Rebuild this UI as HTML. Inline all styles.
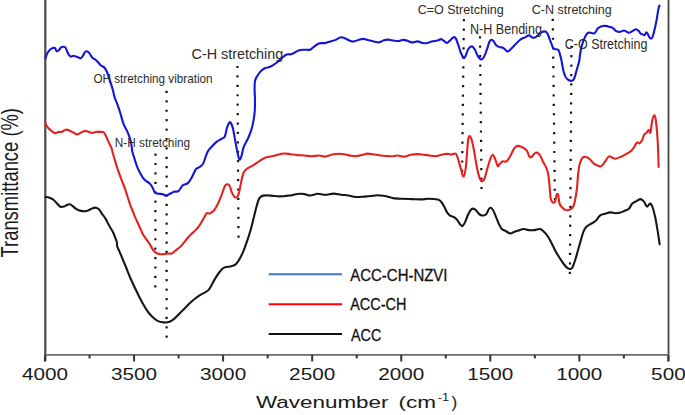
<!DOCTYPE html>
<html><head><meta charset="utf-8"><style>
html,body{margin:0;padding:0;background:#fff;}
svg{display:block;}
text{font-family:"Liberation Sans",sans-serif;}
</style></head><body>
<svg width="685" height="415" viewBox="0 0 685 415">
<rect width="685" height="415" fill="#fff"/>
<!-- axes -->
<line x1="45.3" y1="0" x2="45.3" y2="361.3" stroke="#4a4a4a" stroke-width="2.2"/>
<line x1="668.5" y1="0" x2="668.5" y2="361.3" stroke="#444" stroke-width="1.8"/>
<line x1="44.5" y1="354.9" x2="669" y2="354.9" stroke="#6a6a6a" stroke-width="1.8"/>
<line x1="45.00" y1="355" x2="45.00" y2="361.5" stroke="#333" stroke-width="2"/><line x1="89.53" y1="355" x2="89.53" y2="358.4" stroke="#333" stroke-width="2"/><line x1="134.06" y1="355" x2="134.06" y2="361.5" stroke="#333" stroke-width="2"/><line x1="178.59" y1="355" x2="178.59" y2="358.4" stroke="#333" stroke-width="2"/><line x1="223.11" y1="355" x2="223.11" y2="361.5" stroke="#333" stroke-width="2"/><line x1="267.64" y1="355" x2="267.64" y2="358.4" stroke="#333" stroke-width="2"/><line x1="312.17" y1="355" x2="312.17" y2="361.5" stroke="#333" stroke-width="2"/><line x1="356.70" y1="355" x2="356.70" y2="358.4" stroke="#333" stroke-width="2"/><line x1="401.23" y1="355" x2="401.23" y2="361.5" stroke="#333" stroke-width="2"/><line x1="445.76" y1="355" x2="445.76" y2="358.4" stroke="#333" stroke-width="2"/><line x1="490.29" y1="355" x2="490.29" y2="361.5" stroke="#333" stroke-width="2"/><line x1="534.81" y1="355" x2="534.81" y2="358.4" stroke="#333" stroke-width="2"/><line x1="579.34" y1="355" x2="579.34" y2="361.5" stroke="#333" stroke-width="2"/><line x1="623.87" y1="355" x2="623.87" y2="358.4" stroke="#333" stroke-width="2"/><line x1="668.40" y1="355" x2="668.40" y2="361.5" stroke="#333" stroke-width="2"/>
<g font-size="17" fill="#1a1a1a"><text x="0" y="0" transform="translate(45.00,379.5) scale(1.22,1)" text-anchor="middle">4000</text><text x="0" y="0" transform="translate(134.06,379.5) scale(1.22,1)" text-anchor="middle">3500</text><text x="0" y="0" transform="translate(223.11,379.5) scale(1.22,1)" text-anchor="middle">3000</text><text x="0" y="0" transform="translate(312.17,379.5) scale(1.22,1)" text-anchor="middle">2500</text><text x="0" y="0" transform="translate(401.23,379.5) scale(1.22,1)" text-anchor="middle">2000</text><text x="0" y="0" transform="translate(490.29,379.5) scale(1.22,1)" text-anchor="middle">1500</text><text x="0" y="0" transform="translate(579.34,379.5) scale(1.22,1)" text-anchor="middle">1000</text><text x="0" y="0" transform="translate(668.40,379.5) scale(1.22,1)" text-anchor="middle">500</text></g>
<g font-size="17.4" fill="#1a1a1a"><text x="256" y="407.8" textLength="132.5" lengthAdjust="spacingAndGlyphs">Wavenumber</text><text x="398.5" y="407.8" textLength="37.6" lengthAdjust="spacingAndGlyphs">(cm</text><text x="437.8" y="400.8" font-size="10.2" textLength="11.4" lengthAdjust="spacingAndGlyphs">-1</text><text x="451.4" y="407.8" textLength="5.8" lengthAdjust="spacingAndGlyphs">)</text></g>
<text x="0" y="0" transform="translate(18,257.5) rotate(-90) scale(1,1.24)" font-size="18.95" fill="#1a1a1a" textLength="149.5" lengthAdjust="spacingAndGlyphs">Transmittance (%)</text>
<!-- dotted lines -->
<g fill="#111">
<rect x="154.40" y="153.50" width="2.2" height="2.2" rx="0.5"/><rect x="154.39" y="162.91" width="2.2" height="2.2" rx="0.5"/><rect x="154.37" y="172.31" width="2.2" height="2.2" rx="0.5"/><rect x="154.36" y="181.72" width="2.2" height="2.2" rx="0.5"/><rect x="154.34" y="191.13" width="2.2" height="2.2" rx="0.5"/><rect x="154.33" y="200.54" width="2.2" height="2.2" rx="0.5"/><rect x="154.31" y="209.94" width="2.2" height="2.2" rx="0.5"/><rect x="154.30" y="219.35" width="2.2" height="2.2" rx="0.5"/><rect x="154.29" y="228.76" width="2.2" height="2.2" rx="0.5"/><rect x="154.27" y="238.16" width="2.2" height="2.2" rx="0.5"/><rect x="154.26" y="247.57" width="2.2" height="2.2" rx="0.5"/><rect x="154.24" y="256.98" width="2.2" height="2.2" rx="0.5"/><rect x="154.23" y="266.39" width="2.2" height="2.2" rx="0.5"/><rect x="154.21" y="275.79" width="2.2" height="2.2" rx="0.5"/><rect x="154.20" y="285.20" width="2.2" height="2.2" rx="0.5"/>
<rect x="165.50" y="90.80" width="2.2" height="2.2" rx="0.5"/><rect x="165.50" y="100.22" width="2.2" height="2.2" rx="0.5"/><rect x="165.50" y="109.63" width="2.2" height="2.2" rx="0.5"/><rect x="165.50" y="119.05" width="2.2" height="2.2" rx="0.5"/><rect x="165.50" y="128.46" width="2.2" height="2.2" rx="0.5"/><rect x="165.50" y="137.88" width="2.2" height="2.2" rx="0.5"/><rect x="165.50" y="147.29" width="2.2" height="2.2" rx="0.5"/><rect x="165.50" y="156.71" width="2.2" height="2.2" rx="0.5"/><rect x="165.50" y="166.12" width="2.2" height="2.2" rx="0.5"/><rect x="165.50" y="175.54" width="2.2" height="2.2" rx="0.5"/><rect x="165.50" y="184.95" width="2.2" height="2.2" rx="0.5"/><rect x="165.50" y="194.37" width="2.2" height="2.2" rx="0.5"/><rect x="165.50" y="203.78" width="2.2" height="2.2" rx="0.5"/><rect x="165.50" y="213.20" width="2.2" height="2.2" rx="0.5"/><rect x="165.50" y="222.62" width="2.2" height="2.2" rx="0.5"/><rect x="165.50" y="232.03" width="2.2" height="2.2" rx="0.5"/><rect x="165.50" y="241.45" width="2.2" height="2.2" rx="0.5"/><rect x="165.50" y="250.86" width="2.2" height="2.2" rx="0.5"/><rect x="165.50" y="260.28" width="2.2" height="2.2" rx="0.5"/><rect x="165.50" y="269.69" width="2.2" height="2.2" rx="0.5"/><rect x="165.50" y="279.11" width="2.2" height="2.2" rx="0.5"/><rect x="165.50" y="288.52" width="2.2" height="2.2" rx="0.5"/><rect x="165.50" y="297.94" width="2.2" height="2.2" rx="0.5"/><rect x="165.50" y="307.35" width="2.2" height="2.2" rx="0.5"/><rect x="165.50" y="316.77" width="2.2" height="2.2" rx="0.5"/><rect x="165.50" y="326.18" width="2.2" height="2.2" rx="0.5"/><rect x="165.50" y="335.60" width="2.2" height="2.2" rx="0.5"/>
<rect x="236.30" y="65.90" width="2.2" height="2.2" rx="0.5"/><rect x="236.36" y="75.32" width="2.2" height="2.2" rx="0.5"/><rect x="236.42" y="84.74" width="2.2" height="2.2" rx="0.5"/><rect x="236.48" y="94.17" width="2.2" height="2.2" rx="0.5"/><rect x="236.54" y="103.59" width="2.2" height="2.2" rx="0.5"/><rect x="236.61" y="113.01" width="2.2" height="2.2" rx="0.5"/><rect x="236.67" y="122.43" width="2.2" height="2.2" rx="0.5"/><rect x="236.73" y="131.86" width="2.2" height="2.2" rx="0.5"/><rect x="236.79" y="141.28" width="2.2" height="2.2" rx="0.5"/><rect x="236.85" y="150.70" width="2.2" height="2.2" rx="0.5"/><rect x="236.91" y="160.12" width="2.2" height="2.2" rx="0.5"/><rect x="236.97" y="169.54" width="2.2" height="2.2" rx="0.5"/><rect x="237.03" y="178.97" width="2.2" height="2.2" rx="0.5"/><rect x="237.09" y="188.39" width="2.2" height="2.2" rx="0.5"/><rect x="237.16" y="197.81" width="2.2" height="2.2" rx="0.5"/><rect x="237.22" y="207.23" width="2.2" height="2.2" rx="0.5"/><rect x="237.28" y="216.66" width="2.2" height="2.2" rx="0.5"/><rect x="237.34" y="226.08" width="2.2" height="2.2" rx="0.5"/><rect x="237.40" y="235.50" width="2.2" height="2.2" rx="0.5"/>
<rect x="462.80" y="19.10" width="2.2" height="2.2" rx="0.5"/><rect x="462.69" y="28.52" width="2.2" height="2.2" rx="0.5"/><rect x="462.57" y="37.94" width="2.2" height="2.2" rx="0.5"/><rect x="462.46" y="47.36" width="2.2" height="2.2" rx="0.5"/><rect x="462.35" y="56.77" width="2.2" height="2.2" rx="0.5"/><rect x="462.24" y="66.19" width="2.2" height="2.2" rx="0.5"/><rect x="462.12" y="75.61" width="2.2" height="2.2" rx="0.5"/><rect x="462.01" y="85.03" width="2.2" height="2.2" rx="0.5"/><rect x="461.90" y="94.45" width="2.2" height="2.2" rx="0.5"/><rect x="461.79" y="103.87" width="2.2" height="2.2" rx="0.5"/><rect x="461.67" y="113.29" width="2.2" height="2.2" rx="0.5"/><rect x="461.56" y="122.71" width="2.2" height="2.2" rx="0.5"/><rect x="461.45" y="132.12" width="2.2" height="2.2" rx="0.5"/><rect x="461.34" y="141.54" width="2.2" height="2.2" rx="0.5"/><rect x="461.23" y="150.96" width="2.2" height="2.2" rx="0.5"/><rect x="461.11" y="160.38" width="2.2" height="2.2" rx="0.5"/><rect x="461.00" y="169.80" width="2.2" height="2.2" rx="0.5"/>
<rect x="478.90" y="36.20" width="2.2" height="2.2" rx="0.5"/><rect x="478.99" y="45.62" width="2.2" height="2.2" rx="0.5"/><rect x="479.09" y="55.04" width="2.2" height="2.2" rx="0.5"/><rect x="479.18" y="64.46" width="2.2" height="2.2" rx="0.5"/><rect x="479.27" y="73.88" width="2.2" height="2.2" rx="0.5"/><rect x="479.37" y="83.29" width="2.2" height="2.2" rx="0.5"/><rect x="479.46" y="92.71" width="2.2" height="2.2" rx="0.5"/><rect x="479.56" y="102.13" width="2.2" height="2.2" rx="0.5"/><rect x="479.65" y="111.55" width="2.2" height="2.2" rx="0.5"/><rect x="479.74" y="120.97" width="2.2" height="2.2" rx="0.5"/><rect x="479.84" y="130.39" width="2.2" height="2.2" rx="0.5"/><rect x="479.93" y="139.81" width="2.2" height="2.2" rx="0.5"/><rect x="480.02" y="149.22" width="2.2" height="2.2" rx="0.5"/><rect x="480.12" y="158.64" width="2.2" height="2.2" rx="0.5"/><rect x="480.21" y="168.06" width="2.2" height="2.2" rx="0.5"/><rect x="480.31" y="177.48" width="2.2" height="2.2" rx="0.5"/><rect x="480.40" y="186.90" width="2.2" height="2.2" rx="0.5"/>
<rect x="551.70" y="18.80" width="2.2" height="2.2" rx="0.5"/><rect x="551.81" y="28.24" width="2.2" height="2.2" rx="0.5"/><rect x="551.92" y="37.67" width="2.2" height="2.2" rx="0.5"/><rect x="552.03" y="47.11" width="2.2" height="2.2" rx="0.5"/><rect x="552.14" y="56.55" width="2.2" height="2.2" rx="0.5"/><rect x="552.25" y="65.98" width="2.2" height="2.2" rx="0.5"/><rect x="552.36" y="75.42" width="2.2" height="2.2" rx="0.5"/><rect x="552.47" y="84.86" width="2.2" height="2.2" rx="0.5"/><rect x="552.58" y="94.29" width="2.2" height="2.2" rx="0.5"/><rect x="552.69" y="103.73" width="2.2" height="2.2" rx="0.5"/><rect x="552.81" y="113.17" width="2.2" height="2.2" rx="0.5"/><rect x="552.92" y="122.61" width="2.2" height="2.2" rx="0.5"/><rect x="553.03" y="132.04" width="2.2" height="2.2" rx="0.5"/><rect x="553.14" y="141.48" width="2.2" height="2.2" rx="0.5"/><rect x="553.25" y="150.92" width="2.2" height="2.2" rx="0.5"/><rect x="553.36" y="160.35" width="2.2" height="2.2" rx="0.5"/><rect x="553.47" y="169.79" width="2.2" height="2.2" rx="0.5"/><rect x="553.58" y="179.23" width="2.2" height="2.2" rx="0.5"/><rect x="553.69" y="188.66" width="2.2" height="2.2" rx="0.5"/><rect x="553.80" y="198.10" width="2.2" height="2.2" rx="0.5"/>
<rect x="570.40" y="45.70" width="2.2" height="2.2" rx="0.5"/><rect x="570.33" y="55.12" width="2.2" height="2.2" rx="0.5"/><rect x="570.27" y="64.53" width="2.2" height="2.2" rx="0.5"/><rect x="570.20" y="73.95" width="2.2" height="2.2" rx="0.5"/><rect x="570.13" y="83.37" width="2.2" height="2.2" rx="0.5"/><rect x="570.07" y="92.78" width="2.2" height="2.2" rx="0.5"/><rect x="570.00" y="102.20" width="2.2" height="2.2" rx="0.5"/><rect x="569.93" y="111.62" width="2.2" height="2.2" rx="0.5"/><rect x="569.87" y="121.03" width="2.2" height="2.2" rx="0.5"/><rect x="569.80" y="130.45" width="2.2" height="2.2" rx="0.5"/><rect x="569.73" y="139.87" width="2.2" height="2.2" rx="0.5"/><rect x="569.67" y="149.28" width="2.2" height="2.2" rx="0.5"/><rect x="569.60" y="158.70" width="2.2" height="2.2" rx="0.5"/><rect x="569.53" y="168.12" width="2.2" height="2.2" rx="0.5"/><rect x="569.47" y="177.53" width="2.2" height="2.2" rx="0.5"/><rect x="569.40" y="186.95" width="2.2" height="2.2" rx="0.5"/><rect x="569.33" y="196.37" width="2.2" height="2.2" rx="0.5"/><rect x="569.27" y="205.78" width="2.2" height="2.2" rx="0.5"/><rect x="569.20" y="215.20" width="2.2" height="2.2" rx="0.5"/><rect x="569.13" y="224.62" width="2.2" height="2.2" rx="0.5"/><rect x="569.07" y="234.03" width="2.2" height="2.2" rx="0.5"/><rect x="569.00" y="243.45" width="2.2" height="2.2" rx="0.5"/><rect x="568.93" y="252.87" width="2.2" height="2.2" rx="0.5"/><rect x="568.87" y="262.28" width="2.2" height="2.2" rx="0.5"/><rect x="568.80" y="271.70" width="2.2" height="2.2" rx="0.5"/>
</g>
<!-- curves -->
<path d="M45.8,197.0 C46.3,197.1 47.6,197.0 48.8,197.4 C50.0,197.8 51.8,198.5 53.1,199.5 C54.4,200.5 55.6,202.1 56.8,203.3 C58.0,204.5 59.2,206.3 60.4,206.8 C61.6,207.3 63.0,206.8 64.1,206.5 C65.2,206.2 66.0,205.4 67.0,205.0 C68.0,204.6 68.9,204.1 69.9,204.3 C70.9,204.5 71.7,205.4 72.8,206.2 C73.9,207.0 75.2,208.3 76.5,209.1 C77.8,209.9 79.4,210.6 80.9,210.9 C82.4,211.2 84.0,211.3 85.3,211.2 C86.6,211.1 87.7,210.6 88.9,210.1 C90.1,209.6 91.4,208.6 92.6,208.2 C93.8,207.8 95.1,207.5 96.2,207.7 C97.3,207.9 98.1,208.4 99.1,209.4 C100.1,210.4 100.9,212.2 102.0,213.8 C103.1,215.4 104.6,217.0 105.7,218.9 C106.8,220.8 107.7,223.1 108.8,225.1 C109.9,227.1 111.4,229.2 112.4,231.0 C113.4,232.8 113.9,234.3 114.6,236.1 C115.3,237.9 116.4,240.2 116.8,241.9 C117.2,243.6 116.7,244.6 117.2,246.3 C117.7,248.0 118.7,249.7 119.7,252.1 C120.7,254.5 122.2,258.0 123.4,260.9 C124.6,263.8 125.8,266.6 127.0,269.6 C128.2,272.6 129.2,275.5 130.8,279.0 C132.4,282.5 134.5,287.0 136.3,290.8 C138.1,294.6 139.9,298.3 141.7,301.6 C143.5,304.9 145.3,308.1 147.1,310.7 C148.9,313.3 150.7,315.3 152.5,317.0 C154.3,318.7 156.2,320.2 158.0,321.1 C159.8,322.0 161.6,322.2 163.4,322.4 C165.2,322.6 167.0,322.7 168.8,322.1 C170.6,321.5 172.4,320.2 174.2,318.8 C176.0,317.4 177.8,315.2 179.6,313.4 C181.4,311.6 183.3,309.8 185.1,308.0 C186.9,306.2 188.7,304.2 190.5,302.5 C192.3,300.8 194.1,299.4 195.9,298.0 C197.7,296.6 199.2,295.8 201.3,294.4 C203.4,293.0 206.3,292.5 208.6,289.9 C210.9,287.3 213.0,282.0 215.1,278.6 C217.2,275.2 219.7,271.7 221.4,269.8 C223.1,267.9 223.7,267.8 225.2,267.2 C226.7,266.6 228.6,266.9 230.3,266.5 C232.0,266.1 233.9,265.8 235.4,264.7 C236.9,263.6 237.9,261.7 239.2,259.6 C240.5,257.5 241.7,255.1 243.0,252.1 C244.3,249.1 245.6,245.5 246.8,241.9 C248.1,238.3 249.2,234.9 250.5,230.5 C251.8,226.1 253.2,219.6 254.3,215.4 C255.4,211.2 256.0,208.1 256.9,205.2 C257.8,202.3 258.3,199.8 259.4,198.2 C260.4,196.6 261.3,196.0 263.2,195.6 C265.1,195.2 268.1,195.5 270.8,195.6 C273.5,195.7 276.3,196.4 279.5,196.4 C282.7,196.4 287.5,195.8 290.0,195.5 C292.5,195.2 292.7,194.8 294.4,194.5 C296.1,194.2 298.5,193.9 300.2,193.8 C301.9,193.7 302.9,193.8 304.6,194.1 C306.3,194.4 308.2,195.6 310.4,195.5 C312.6,195.4 315.3,193.9 317.7,193.8 C320.1,193.7 322.3,194.8 325.0,194.8 C327.7,194.8 331.1,193.6 333.8,193.6 C336.5,193.6 338.7,194.5 341.1,194.8 C343.5,195.1 346.0,195.1 348.4,195.5 C350.8,195.9 353.3,196.8 355.7,197.0 C358.1,197.2 360.6,196.9 363.0,196.7 C365.4,196.5 367.9,196.2 370.3,196.0 C372.7,195.8 375.4,195.3 377.6,195.3 C379.8,195.3 381.3,195.5 383.4,195.8 C385.5,196.1 388.4,196.8 390.0,197.2 C391.6,197.6 391.1,197.8 393.1,198.1 C395.1,198.4 398.7,198.6 401.9,198.8 C405.1,199.0 408.9,199.0 412.1,199.1 C415.3,199.2 418.2,199.4 420.9,199.4 C423.6,199.4 425.4,198.8 428.2,198.8 C431.0,198.8 435.5,199.0 437.7,199.5 C439.9,200.0 440.2,200.8 441.3,202.0 C442.4,203.2 443.2,204.6 444.2,206.4 C445.2,208.2 446.2,211.2 447.2,212.7 C448.2,214.2 448.9,214.8 450.1,215.6 C451.3,216.4 453.3,216.5 454.5,217.3 C455.7,218.1 456.4,219.1 457.4,220.3 C458.4,221.5 459.4,223.7 460.3,224.6 C461.2,225.5 461.7,226.4 462.5,226.0 C463.3,225.6 464.2,224.0 465.1,222.1 C466.0,220.2 467.0,216.9 468.0,214.8 C469.0,212.7 469.9,210.7 470.9,209.7 C471.9,208.7 472.9,208.4 473.9,208.7 C474.9,208.9 475.8,210.2 476.8,211.2 C477.8,212.2 478.6,213.8 479.7,214.5 C480.8,215.2 482.3,215.6 483.4,215.5 C484.5,215.4 485.4,215.1 486.3,214.1 C487.2,213.1 487.8,210.8 488.5,209.7 C489.2,208.6 490.0,207.8 490.7,207.8 C491.4,207.8 491.9,208.3 492.8,209.7 C493.7,211.1 494.8,214.0 495.8,216.3 C496.8,218.6 497.7,221.5 498.7,223.6 C499.7,225.7 500.5,227.5 501.6,228.7 C502.7,229.9 503.8,230.1 505.3,230.9 C506.8,231.7 508.9,233.3 510.4,233.5 C511.8,233.7 512.7,232.5 514.0,232.0 C515.3,231.5 516.8,231.1 518.4,230.6 C520.0,230.1 521.8,229.1 523.5,229.0 C525.2,228.9 526.8,229.9 528.6,230.1 C530.4,230.3 532.7,230.3 534.5,230.1 C536.3,229.9 538.1,228.9 539.6,229.0 C541.1,229.1 541.9,229.7 543.2,230.9 C544.5,232.1 546.2,233.9 547.6,236.0 C549.0,238.1 550.4,241.0 551.7,243.4 C553.0,245.8 554.0,248.3 555.3,250.7 C556.6,253.1 558.2,255.7 559.7,258.0 C561.2,260.3 562.8,262.8 564.1,264.5 C565.4,266.2 566.6,267.5 567.7,268.2 C568.8,268.9 569.9,269.1 570.7,268.9 C571.6,268.6 571.9,268.5 572.8,266.7 C573.6,264.9 574.8,261.2 575.8,258.0 C576.8,254.8 577.7,251.1 578.7,247.7 C579.7,244.3 580.8,240.3 581.6,237.5 C582.5,234.7 582.9,232.7 583.8,230.9 C584.6,229.1 585.6,227.7 586.7,226.6 C587.8,225.5 589.0,225.0 590.4,224.1 C591.8,223.2 593.6,222.8 595.2,221.3 C596.8,219.9 598.5,216.7 600.2,215.4 C601.9,214.1 603.6,214.2 605.3,213.7 C607.0,213.2 608.7,212.5 610.4,212.4 C612.1,212.3 613.7,213.2 615.4,213.2 C617.1,213.2 619.0,212.9 620.5,212.5 C622.0,212.1 623.3,211.3 624.7,210.7 C626.1,210.1 627.6,209.9 628.9,208.7 C630.2,207.5 631.0,204.9 632.3,203.6 C633.6,202.3 635.1,201.8 636.5,201.1 C637.9,200.3 639.4,199.0 640.7,199.1 C642.0,199.2 643.0,200.7 644.1,201.9 C645.2,203.2 646.1,206.3 647.1,206.6 C648.1,206.9 649.1,203.5 650.0,203.6 C650.9,203.7 651.7,204.9 652.5,207.0 C653.3,209.1 654.1,212.4 655.0,216.3 C655.9,220.2 656.8,226.0 657.6,230.6 C658.4,235.2 659.3,241.8 659.6,244.1" fill="none" stroke="#161616" stroke-width="2.1" stroke-linejoin="round" stroke-linecap="round"/>
<path d="M45.1,122.4 C45.5,123.1 46.3,125.5 47.3,126.8 C48.3,128.1 49.7,129.3 50.9,130.4 C52.1,131.5 53.2,132.8 54.6,133.1 C56.0,133.3 57.8,132.1 59.0,131.9 C60.2,131.7 60.8,132.3 61.9,131.9 C63.0,131.5 64.3,129.9 65.5,129.7 C66.7,129.4 67.9,129.9 69.2,130.4 C70.5,130.9 72.3,131.9 73.6,132.6 C74.9,133.3 76.0,134.4 77.2,134.4 C78.4,134.4 79.6,133.2 80.9,132.6 C82.2,132.0 84.0,131.0 85.3,130.9 C86.6,130.8 87.7,131.6 88.9,131.9 C90.1,132.2 91.4,132.9 92.6,132.9 C93.8,132.9 95.0,132.1 96.2,131.9 C97.4,131.7 98.7,131.9 99.9,131.9 C101.1,131.9 102.5,131.6 103.5,132.2 C104.5,132.8 104.9,133.8 105.7,135.5 C106.5,137.2 107.6,140.0 108.6,142.1 C109.6,144.2 110.8,146.1 111.5,148.0 C112.2,149.9 112.4,151.6 113.0,153.8 C113.6,156.0 114.5,158.7 115.2,161.1 C115.9,163.5 116.9,166.9 117.4,168.4 C117.9,169.9 117.3,168.2 118.0,170.2 C118.7,172.2 120.6,177.5 121.7,180.4 C122.8,183.3 123.6,185.0 124.6,187.7 C125.6,190.4 126.5,193.6 127.5,196.5 C128.5,199.4 129.6,203.1 130.4,205.3 C131.2,207.6 131.5,208.0 132.3,210.0 C133.1,212.0 134.1,214.8 135.2,217.3 C136.3,219.9 137.7,222.6 138.9,225.3 C140.1,228.0 141.3,231.1 142.5,233.4 C143.7,235.7 145.0,237.4 146.2,239.2 C147.4,241.0 148.7,242.6 149.8,244.3 C150.9,246.0 151.7,248.0 152.7,249.4 C153.7,250.8 154.5,251.8 155.7,252.6 C156.9,253.4 158.6,253.8 160.0,254.1 C161.4,254.3 163.1,254.2 164.4,254.1 C165.8,254.0 166.9,253.6 168.1,253.5 C169.3,253.4 170.4,254.1 171.7,253.5 C173.0,252.9 174.6,251.3 176.1,250.1 C177.6,248.9 179.0,247.9 180.5,246.5 C182.0,245.1 183.5,243.1 184.9,241.4 C186.3,239.7 187.8,237.9 189.2,236.3 C190.6,234.7 192.1,233.4 193.6,231.9 C195.1,230.4 196.8,229.0 198.0,227.5 C199.2,226.0 199.9,224.7 200.9,223.1 C201.9,221.5 202.8,219.7 203.8,218.0 C204.8,216.3 205.8,213.9 206.8,213.2 C207.8,212.5 208.7,213.9 209.7,213.6 C210.7,213.3 211.8,212.1 212.6,211.5 C213.4,210.9 213.6,211.2 214.5,209.8 C215.4,208.4 217.0,205.7 218.3,203.0 C219.6,200.3 221.1,196.3 222.2,193.4 C223.3,190.5 224.1,187.2 225.1,185.7 C226.1,184.2 227.2,184.2 228.0,184.3 C228.8,184.5 229.3,185.2 229.9,186.6 C230.5,187.9 231.0,190.6 231.8,192.4 C232.6,194.2 233.7,196.5 234.7,197.2 C235.7,197.8 236.8,197.4 237.6,196.3 C238.4,195.2 238.9,193.1 239.5,190.5 C240.1,187.9 240.8,183.7 241.4,180.8 C242.1,177.9 242.6,175.0 243.4,173.1 C244.2,171.2 245.0,170.4 246.3,169.3 C247.6,168.2 249.5,167.4 251.1,166.4 C252.7,165.4 254.1,164.6 255.9,163.5 C257.7,162.4 259.9,160.6 261.7,159.6 C263.5,158.6 264.4,157.9 266.5,157.3 C268.6,156.7 271.5,156.4 274.2,155.8 C276.9,155.2 280.2,153.8 282.9,153.5 C285.6,153.2 288.2,153.9 290.6,154.2 C293.0,154.5 295.0,154.9 297.3,155.1 C299.6,155.3 302.2,155.3 304.6,155.5 C307.0,155.7 309.5,156.3 311.9,156.3 C314.3,156.3 317.0,155.4 319.2,155.5 C321.4,155.6 322.8,156.8 325.0,156.6 C327.2,156.4 329.9,155.0 332.3,154.5 C334.7,154.0 337.4,153.8 339.6,153.8 C341.8,153.8 343.6,154.2 345.5,154.5 C347.4,154.8 349.4,155.6 351.3,155.8 C353.2,156.1 355.2,156.2 357.2,156.0 C359.1,155.8 361.3,155.2 363.0,154.8 C364.7,154.4 365.4,153.7 367.4,153.6 C369.3,153.5 372.5,154.2 374.7,154.5 C376.9,154.8 378.6,155.2 380.5,155.5 C382.4,155.8 383.9,155.9 385.8,156.0 C387.7,156.1 389.8,156.4 391.7,156.3 C393.6,156.2 395.4,155.4 397.5,155.5 C399.6,155.6 401.9,156.7 404.1,156.6 C406.3,156.5 408.4,155.2 410.7,154.8 C413.0,154.4 415.8,154.1 418.0,154.1 C420.2,154.1 421.9,154.6 423.8,154.8 C425.7,155.0 427.7,155.2 429.6,155.5 C431.6,155.8 433.6,156.4 435.5,156.3 C437.4,156.2 439.4,155.2 441.3,154.8 C443.2,154.4 445.5,153.9 447.2,153.8 C448.9,153.8 450.1,154.5 451.5,154.5 C452.9,154.5 454.8,153.0 455.9,153.8 C457.0,154.6 457.2,156.6 458.1,159.2 C459.0,161.8 460.1,166.5 461.0,169.4 C461.9,172.3 462.7,176.8 463.5,176.5 C464.3,176.2 465.1,173.2 465.8,167.3 C466.6,161.4 467.4,146.3 468.0,141.1 C468.6,135.9 468.5,136.7 469.1,136.3 C469.7,135.9 470.6,136.7 471.4,138.9 C472.2,141.2 473.1,145.8 473.9,149.8 C474.7,153.8 475.4,159.1 476.1,163.0 C476.8,166.9 477.5,170.4 478.2,173.2 C478.9,176.0 479.7,178.4 480.4,179.7 C481.1,181.0 481.9,181.5 482.6,181.2 C483.3,180.8 484.0,179.9 484.8,177.6 C485.6,175.3 486.7,170.6 487.7,167.3 C488.7,164.0 489.8,159.9 490.7,157.8 C491.6,155.7 492.1,154.8 492.8,154.9 C493.5,155.0 494.2,156.8 495.0,158.6 C495.8,160.4 497.0,164.9 497.7,165.9 C498.4,166.9 498.6,165.1 499.4,164.4 C500.2,163.7 501.1,162.0 502.3,161.5 C503.5,161.0 505.4,162.2 506.7,161.2 C508.0,160.2 509.1,158.0 510.4,155.7 C511.7,153.4 513.4,149.2 514.7,147.6 C516.0,146.0 517.3,146.0 518.4,145.9 C519.5,145.8 520.2,146.4 521.3,146.9 C522.4,147.4 524.0,148.1 525.0,148.8 C526.0,149.5 526.5,150.0 527.2,151.3 C527.9,152.6 528.6,155.4 529.3,156.4 C530.0,157.4 530.6,157.6 531.5,157.1 C532.4,156.6 533.5,154.2 534.5,153.5 C535.5,152.8 536.4,152.3 537.4,152.7 C538.4,153.1 539.3,154.1 540.3,155.7 C541.3,157.3 542.2,160.3 543.2,162.2 C544.2,164.1 545.2,165.2 546.1,167.3 C547.0,169.4 547.7,171.0 548.3,174.6 C548.9,178.2 549.4,184.8 549.8,188.9 C550.2,193.0 550.3,196.7 550.8,199.0 C551.3,201.3 552.3,202.2 553.0,202.6 C553.7,203.0 554.6,202.5 555.2,201.2 C555.8,199.9 556.1,195.8 556.6,194.7 C557.1,193.6 557.6,193.2 558.1,194.7 C558.6,196.1 558.9,201.3 559.5,203.4 C560.1,205.5 560.7,205.9 561.7,207.0 C562.7,208.1 564.1,209.4 565.3,209.9 C566.5,210.4 567.7,210.3 568.9,209.9 C570.1,209.5 571.5,209.0 572.5,207.7 C573.5,206.4 574.0,205.0 574.7,201.9 C575.4,198.8 576.3,193.5 576.9,188.9 C577.5,184.3 577.6,178.6 578.1,174.3 C578.6,170.0 579.1,166.1 579.9,163.3 C580.7,160.5 581.6,158.6 582.7,157.5 C583.8,156.4 585.1,156.6 586.3,156.9 C587.5,157.2 588.7,158.2 589.9,159.3 C591.1,160.4 592.0,162.2 593.5,163.3 C595.0,164.4 597.5,165.6 598.9,166.0 C600.2,166.4 600.5,166.8 601.6,166.0 C602.7,165.2 604.0,163.0 605.2,161.4 C606.4,159.8 607.7,157.0 608.9,156.4 C610.1,155.8 611.5,157.4 612.5,157.8 C613.5,158.2 613.9,158.8 615.2,158.7 C616.6,158.5 618.8,157.7 620.6,156.9 C622.4,156.2 624.2,155.2 626.0,154.2 C627.8,153.1 630.1,151.8 631.5,150.6 C632.9,149.4 633.3,148.3 634.2,147.0 C635.1,145.7 636.0,143.1 636.9,142.5 C637.8,141.9 638.7,143.8 639.6,143.4 C640.5,143.0 641.5,141.2 642.3,139.8 C643.0,138.4 643.4,135.9 644.1,134.7 C644.9,133.5 646.0,133.3 646.8,132.5 C647.5,131.7 648.0,129.8 648.6,129.8 C649.2,129.8 649.8,134.0 650.4,132.5 C651.0,131.0 651.6,123.6 652.2,120.8 C652.8,118.0 653.4,115.6 654.0,115.4 C654.6,115.2 655.2,115.5 655.8,119.9 C656.4,124.3 657.2,133.8 657.7,141.6 C658.2,149.4 658.5,162.7 658.6,166.9" fill="none" stroke="#e52020" stroke-width="2.1" stroke-linejoin="round" stroke-linecap="round"/>
<path d="M45.3,58.4 C45.7,57.4 47.0,53.8 47.9,52.3 C48.8,50.8 49.5,50.0 50.5,49.2 C51.5,48.4 53.2,47.9 54.0,47.7 C54.8,47.6 54.9,47.7 55.3,48.3 C55.7,48.9 56.0,50.9 56.6,51.2 C57.2,51.5 58.1,50.9 58.8,50.3 C59.5,49.7 60.3,48.0 61.0,47.4 C61.7,46.8 62.5,46.8 63.2,46.8 C63.9,46.8 64.8,46.6 65.4,47.4 C66.1,48.2 66.5,50.1 67.1,51.4 C67.7,52.6 68.2,54.0 68.9,54.9 C69.6,55.8 70.4,56.5 71.1,56.6 C71.8,56.8 72.5,55.8 73.3,55.8 C74.1,55.8 75.0,56.3 75.9,56.6 C76.8,56.9 77.7,57.2 78.5,57.5 C79.3,57.8 80.0,58.7 80.7,58.4 C81.4,58.1 82.2,56.8 82.9,55.8 C83.6,54.8 84.1,53.1 84.7,52.3 C85.3,51.5 86.1,51.1 86.8,51.2 C87.5,51.3 88.3,52.0 89.0,52.7 C89.7,53.4 90.2,54.4 90.8,55.3 C91.4,56.2 91.8,57.4 92.5,58.0 C93.2,58.6 94.0,58.6 94.7,59.1 C95.4,59.6 96.0,60.1 96.9,61.0 C97.8,61.9 99.3,63.7 100.0,64.5 C100.7,65.3 100.6,65.2 101.3,65.7 C102.0,66.2 103.3,66.6 104.2,67.4 C105.1,68.2 105.7,69.3 106.4,70.8 C107.1,72.3 107.9,74.5 108.6,76.6 C109.3,78.7 110.1,80.9 110.8,83.2 C111.5,85.5 112.4,88.2 113.0,90.5 C113.6,92.8 113.8,95.0 114.6,97.3 C115.3,99.6 116.5,101.9 117.5,104.6 C118.5,107.3 119.4,110.2 120.4,113.4 C121.4,116.6 122.2,120.4 123.4,123.6 C124.6,126.8 126.5,129.4 127.7,132.3 C128.9,135.2 129.9,137.9 130.7,141.1 C131.5,144.3 131.8,148.7 132.4,151.7 C133.1,154.7 133.8,156.3 134.6,159.0 C135.4,161.7 136.4,165.0 137.5,167.7 C138.6,170.4 140.0,172.9 141.2,175.0 C142.4,177.1 143.5,178.8 144.8,180.1 C146.1,181.4 148.0,182.0 149.2,183.1 C150.4,184.2 151.1,185.1 152.1,186.7 C153.1,188.3 153.9,191.6 155.0,192.8 C156.1,194.0 157.3,193.4 158.7,193.7 C160.0,193.9 161.9,194.0 163.1,194.3 C164.3,194.7 164.9,195.9 166.0,195.8 C167.1,195.8 168.3,194.7 169.6,194.0 C170.9,193.3 172.5,192.3 174.0,191.8 C175.5,191.3 176.9,192.2 178.4,191.1 C179.9,190.0 181.2,186.6 182.8,185.3 C184.4,184.0 186.5,184.3 187.9,183.1 C189.3,181.9 190.2,180.3 191.5,178.0 C192.8,175.7 194.6,171.0 195.9,169.2 C197.2,167.4 198.4,168.0 199.6,167.0 C200.8,166.0 201.9,166.0 203.2,163.4 C204.5,160.8 206.2,154.5 207.6,151.7 C209.0,148.9 210.2,148.4 211.7,146.7 C213.2,145.0 215.1,142.9 216.8,141.6 C218.5,140.3 220.6,139.5 221.9,138.7 C223.2,137.8 224.0,138.3 224.8,136.5 C225.7,134.7 226.2,130.0 227.0,127.7 C227.8,125.4 228.7,123.4 229.3,122.6 C229.9,121.8 230.0,121.8 230.6,122.6 C231.2,123.4 232.1,124.9 232.8,127.7 C233.5,130.5 234.3,135.5 235.0,139.4 C235.7,143.3 236.5,147.8 237.2,151.1 C237.9,154.4 238.7,158.8 239.4,159.5 C240.1,160.2 240.9,157.6 241.6,155.5 C242.3,153.4 242.7,149.6 243.8,146.7 C244.9,143.8 247.0,140.7 248.2,138.0 C249.4,135.3 250.2,133.4 251.1,130.7 C251.9,128.0 252.7,125.1 253.3,121.9 C253.9,118.7 254.4,115.4 254.7,111.7 C255.0,108.0 255.0,103.6 255.0,100.0 C255.0,96.4 254.6,93.2 254.6,90.0 C254.6,86.8 254.6,83.3 255.0,81.1 C255.4,78.9 255.9,78.3 256.8,76.7 C257.7,75.1 259.1,73.0 260.4,71.6 C261.7,70.2 263.1,69.0 264.8,68.2 C266.5,67.4 268.8,67.4 270.7,66.5 C272.6,65.6 274.6,64.3 276.5,62.8 C278.4,61.3 280.6,59.1 282.3,57.7 C284.0,56.3 285.1,55.1 286.7,54.5 C288.3,53.9 289.9,54.8 291.8,54.1 C293.8,53.4 296.3,51.1 298.4,50.4 C300.5,49.7 302.2,49.8 304.2,49.7 C306.1,49.6 308.6,50.1 310.1,49.7 C311.6,49.3 311.6,48.5 313.0,47.5 C314.4,46.5 316.9,44.1 318.8,43.4 C320.8,42.7 322.8,43.4 324.7,43.1 C326.6,42.8 328.6,41.9 330.5,41.4 C332.4,40.9 334.1,40.6 335.8,39.9 C337.5,39.2 339.3,37.5 340.9,37.3 C342.5,37.1 343.7,37.9 345.3,38.5 C346.9,39.1 348.9,40.5 350.4,41.0 C351.9,41.5 352.8,41.6 354.1,41.4 C355.5,41.2 356.9,40.3 358.5,39.9 C360.1,39.5 361.9,38.8 363.6,38.9 C365.3,39.0 367.0,39.8 368.7,40.2 C370.4,40.6 372.1,41.0 373.8,41.4 C375.5,41.8 377.2,42.6 378.9,42.4 C380.6,42.2 382.4,40.7 384.0,40.2 C385.6,39.7 386.7,39.5 388.4,39.6 C390.1,39.7 392.5,40.5 394.2,40.7 C395.9,40.9 397.1,41.1 398.6,41.0 C400.1,40.9 401.5,39.9 403.0,39.9 C404.5,39.9 405.9,40.3 407.4,40.7 C408.9,41.1 410.1,42.3 411.8,42.4 C413.5,42.5 415.9,41.3 417.6,41.4 C419.3,41.5 420.6,42.5 422.0,42.8 C423.4,43.1 424.2,43.4 425.8,43.2 C427.4,43.0 429.8,42.1 431.7,41.6 C433.6,41.1 435.9,40.9 437.5,40.5 C439.1,40.1 440.1,39.0 441.2,39.1 C442.3,39.2 443.1,40.4 444.1,41.0 C445.1,41.6 446.0,43.1 447.0,43.0 C448.0,42.9 448.8,41.5 449.9,40.5 C451.0,39.5 452.6,37.6 453.6,37.2 C454.6,36.9 455.1,37.2 455.8,38.4 C456.5,39.6 457.1,41.8 458.0,44.2 C458.9,46.6 460.0,50.8 460.9,53.0 C461.8,55.2 462.8,57.0 463.5,57.6 C464.2,58.2 464.5,58.0 465.3,56.6 C466.1,55.2 467.1,51.0 468.2,49.3 C469.3,47.6 470.7,46.4 471.8,46.4 C472.9,46.4 473.7,47.7 474.7,49.3 C475.7,50.9 476.6,54.2 477.7,55.9 C478.8,57.6 480.2,59.4 481.3,59.5 C482.4,59.6 483.2,58.4 484.2,56.6 C485.2,54.8 486.3,51.0 487.2,48.6 C488.1,46.2 488.6,43.5 489.3,42.0 C490.0,40.5 490.8,39.9 491.5,39.8 C492.2,39.7 493.0,40.4 493.7,41.3 C494.4,42.1 494.9,43.9 495.9,44.9 C496.9,45.9 498.4,46.6 499.6,47.1 C500.8,47.6 502.0,47.1 503.2,47.8 C504.4,48.5 505.9,50.7 506.9,51.2 C507.9,51.7 508.0,51.6 509.1,50.8 C510.2,50.0 511.5,48.2 513.4,46.4 C515.2,44.6 518.3,41.3 520.2,39.8 C522.1,38.3 523.1,38.3 524.6,37.6 C526.1,36.9 527.7,35.4 529.0,35.4 C530.3,35.4 531.4,37.4 532.6,37.6 C533.8,37.9 535.1,37.6 536.3,36.9 C537.5,36.2 538.6,34.1 539.9,33.2 C541.2,32.3 543.1,31.4 544.3,31.4 C545.5,31.4 546.4,32.0 547.2,33.2 C548.1,34.4 548.7,36.6 549.4,38.4 C550.1,40.2 550.9,42.5 551.6,44.2 C552.3,46.0 552.9,48.0 553.8,48.9 C554.6,49.8 555.9,49.0 556.7,49.3 C557.6,49.6 558.2,49.2 558.9,50.8 C559.6,52.4 560.5,56.4 561.1,58.8 C561.7,61.2 561.9,63.2 562.3,65.3 C562.7,67.4 563.1,69.5 563.6,71.4 C564.1,73.3 564.7,75.2 565.4,76.6 C566.1,78.0 567.1,79.0 568.0,79.7 C568.9,80.4 569.8,80.7 570.6,80.8 C571.4,80.9 572.1,80.8 572.8,80.3 C573.5,79.8 574.0,79.0 574.6,77.5 C575.2,76.0 575.7,73.4 576.3,71.4 C576.9,69.4 577.6,67.2 578.1,65.3 C578.6,63.4 579.0,62.5 579.4,60.0 C579.8,57.5 580.1,53.4 580.8,50.0 C581.5,46.6 582.6,42.6 583.7,39.8 C584.8,37.0 586.2,34.4 587.4,33.2 C588.6,32.0 589.8,32.8 591.0,32.8 C592.2,32.8 593.6,34.0 594.7,33.2 C595.9,32.4 596.7,29.4 597.9,28.2 C599.1,27.0 600.6,26.7 601.8,26.3 C603.0,25.9 603.8,25.8 605.1,25.9 C606.4,26.0 608.4,26.5 609.7,26.9 C611.0,27.3 611.9,27.5 613.0,28.2 C614.1,28.9 615.1,30.5 616.3,31.1 C617.5,31.7 618.9,31.9 620.2,31.8 C621.5,31.7 622.8,30.3 624.2,30.5 C625.6,30.7 627.4,32.7 628.8,32.8 C630.2,32.9 631.5,31.5 632.7,30.9 C633.9,30.3 635.0,29.2 636.0,29.2 C637.0,29.2 637.8,30.2 638.6,30.9 C639.4,31.6 639.9,32.9 640.6,33.5 C641.3,34.1 642.0,34.1 642.6,34.4 C643.2,34.7 643.9,35.6 644.5,35.2 C645.1,34.8 645.8,32.2 646.5,32.2 C647.2,32.2 647.9,34.5 648.5,35.5 C649.1,36.5 649.8,38.1 650.4,38.4 C651.0,38.7 651.7,38.8 652.4,37.4 C653.1,36.0 653.7,32.9 654.4,30.2 C655.1,27.5 655.8,23.9 656.4,21.0 C657.0,18.1 657.3,15.5 657.7,13.1 C658.1,10.7 658.7,7.8 659.0,6.6 C659.3,5.4 659.5,6.0 659.6,5.9" fill="none" stroke="#1515d6" stroke-width="2.1" stroke-linejoin="round" stroke-linecap="round"/>
<!-- annotations -->
<g fill="#2b2b2b"><text x="191.6" y="58.7" font-size="15.36" textLength="91.62" lengthAdjust="spacingAndGlyphs">C-H stretching</text><text x="93.4" y="82.9" font-size="12.9" textLength="119.19" lengthAdjust="spacingAndGlyphs">OH stretching vibration</text><text x="114.8" y="146.6" font-size="12.75" textLength="75.37" lengthAdjust="spacingAndGlyphs">N-H stretching</text><text x="417.7" y="14.1" font-size="13.19" textLength="85.96" lengthAdjust="spacingAndGlyphs">C=O Stretching</text><text x="470.0" y="33.9" font-size="14.06" textLength="71.88" lengthAdjust="spacingAndGlyphs">N-H Bending</text><text x="531.7" y="14.2" font-size="13.33" textLength="80.12" lengthAdjust="spacingAndGlyphs">C-N stretching</text><text x="564.8" y="48.5" font-size="13.77" textLength="82.56" lengthAdjust="spacingAndGlyphs">C-O Stretching</text></g>
<!-- legend -->
<line x1="268.7" y1="274.2" x2="342" y2="274.2" stroke="#4472c4" stroke-width="2"/>
<line x1="268.7" y1="304.2" x2="342" y2="304.2" stroke="#ff0000" stroke-width="2"/>
<line x1="268.7" y1="333.9" x2="342" y2="333.9" stroke="#111" stroke-width="2"/>
<g fill="#111" stroke="#111" stroke-width="0.3"><text x="350.25" y="280.6" font-size="16.81" textLength="97.25" lengthAdjust="spacingAndGlyphs">ACC-CH-NZVI</text><text x="350.25" y="309.95" font-size="17.17" textLength="56.06" lengthAdjust="spacingAndGlyphs">ACC-CH</text><text x="351.1" y="340.8" font-size="17.1" textLength="30.12" lengthAdjust="spacingAndGlyphs">ACC</text></g>
</svg>
</body></html>
